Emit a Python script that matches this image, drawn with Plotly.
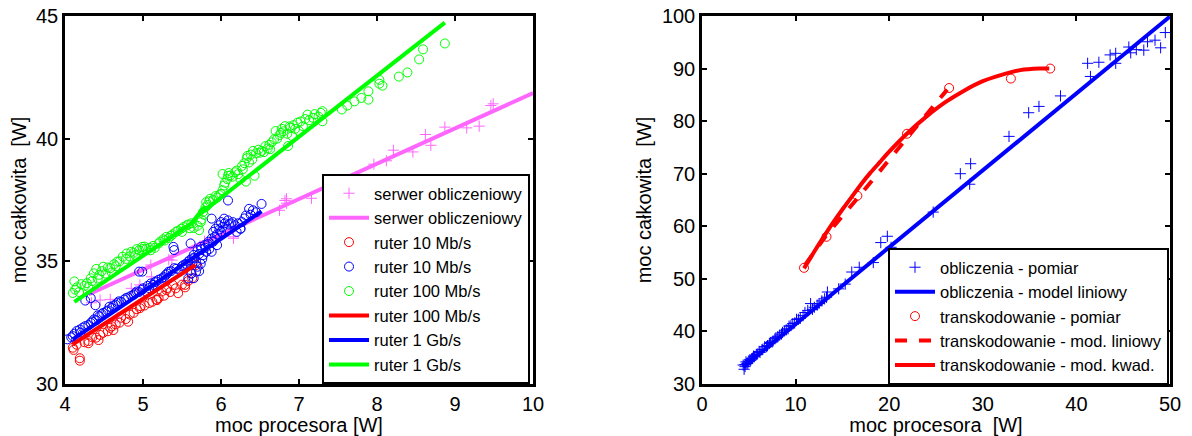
import plotly.graph_objects as go

# ---------------- LEFT PANEL DATA ----------------
serwer_x = [4.34, 4.45, 4.58, 4.67, 4.85, 4.94, 4.96, 5.11, 5.10, 5.33, 5.37, 5.79, 6.16, 6.16,
            6.75, 6.82, 6.84, 6.84, 7.16, 7.96, 8.12, 8.21, 8.46, 8.62, 8.69, 8.87, 9.15, 9.31, 9.46, 9.49]
serwer_y = [33.31, 33.42, 33.45, 32.70, 33.90, 33.83, 34.04, 34.37, 34.85, 35.07, 35.05, 35.82, 36.00, 35.94,
            37.08, 37.48, 37.55, 37.37, 37.57, 38.96, 39.10, 39.53, 39.46, 40.17, 39.73, 40.47, 40.44, 40.51, 41.35, 41.42]
serwer_model_x = [4.30, 10.0]
serwer_model_y = [33.65, 41.86]

r10_x = [4.10, 4.11, 4.19, 4.19, 4.30, 4.30, 4.40, 4.43, 4.49, 4.58, 4.62, 4.65, 4.72, 4.81, 4.83,
         4.96, 4.97, 5.08, 5.17, 5.18, 5.24, 5.30, 5.31, 5.38, 5.54, 5.54, 5.62, 5.63, 5.65, 5.68,
         4.15, 4.25, 4.35, 4.45, 4.55, 4.60, 4.70, 4.78, 4.88, 4.92, 5.02, 5.12, 5.20, 5.27, 5.35,
         5.42, 5.50, 5.58, 5.45]
r10_y = [31.48, 31.39, 31.05, 30.95, 31.75, 31.66, 31.89, 31.79, 32.09, 32.29, 32.20, 32.43, 32.70, 32.54, 32.83,
         33.09, 33.17, 33.30, 33.44, 33.42, 33.77, 33.83, 33.91, 34.04, 34.04, 33.94, 34.51, 34.31, 34.99, 34.85,
         31.60, 31.70, 31.90, 32.00, 32.15, 32.35, 32.50, 32.65, 32.90, 33.05, 33.20, 33.35, 33.50, 33.60, 33.75,
         33.90, 34.05, 34.20, 33.70]

b10_x = [4.03, 4.10, 4.15, 4.19, 4.26, 4.33, 4.37, 4.44, 4.49, 4.53, 4.60, 4.65, 4.69, 4.76, 4.81,
         4.88, 4.92, 4.99, 5.04, 5.08, 5.13, 5.17, 5.24, 5.29, 5.33, 5.40, 5.47, 5.52, 5.58, 5.63,
         5.68, 5.70, 5.68, 5.65, 5.65, 5.70, 5.74, 5.79, 5.84, 5.88, 5.90, 5.93, 5.97, 6.00, 6.04,
         6.09, 6.13, 6.18, 6.20, 6.00, 5.95, 5.88, 5.81, 6.25, 6.32, 6.36, 6.41, 6.52,
         4.26, 4.33, 4.39, 4.95, 4.99, 5.39, 5.40, 5.61, 5.88, 6.09, 6.25,
         4.08, 4.12, 4.20, 4.23, 4.30, 4.35, 4.40, 4.42, 4.47, 4.55, 4.57, 4.62, 4.67, 4.72, 4.78,
         4.85, 4.90, 4.95, 5.00, 5.06, 5.10, 5.15, 5.20, 5.27, 5.31, 5.36, 5.43, 5.50, 5.55, 5.60,
         5.66, 5.72, 5.75, 5.77, 5.80, 5.83, 5.85, 5.90, 5.92, 5.95, 5.98, 6.02, 6.05, 6.07, 6.10,
         6.15, 6.22, 6.27, 6.30, 6.38, 6.45, 5.72, 5.74, 5.76, 5.62, 5.58]
b10_y = [31.82, 31.95, 32.16, 32.22, 32.36, 32.49, 32.63, 32.76, 32.90, 32.96, 33.10, 33.23, 33.37, 33.44, 33.53,
         33.64, 33.77, 33.84, 33.77, 33.91, 34.04, 34.18, 34.31, 34.45, 34.58, 34.72, 34.65, 34.85, 34.99, 35.12,
         34.99, 34.78, 34.58, 34.31, 35.26, 35.46, 35.59, 35.66, 35.80, 35.93, 36.20, 36.33, 36.47, 36.60, 36.74,
         36.67, 36.54, 36.47, 36.20, 36.20, 35.66, 35.39, 35.39, 36.33, 36.87, 37.14, 37.08, 37.34,
         33.40, 33.50, 33.21, 34.58, 34.58, 35.59, 35.46, 35.73, 36.74, 37.48, 36.33,
         31.90, 32.05, 32.10, 32.30, 32.40, 32.55, 32.60, 32.80, 32.85, 33.00, 33.15, 33.20, 33.30, 33.35, 33.50,
         33.60, 33.70, 33.75, 33.90, 34.00, 34.10, 34.15, 34.25, 34.35, 34.50, 34.60, 34.70, 34.80, 34.90, 35.05,
         35.15, 35.30, 35.50, 35.25, 35.55, 35.70, 35.50, 35.80, 36.00, 36.10, 36.30, 36.40, 36.55, 36.30, 36.50,
         36.60, 36.55, 36.60, 36.75, 36.90, 37.00, 34.60, 34.90, 35.10, 34.50, 34.30]

g100_x = [4.10, 4.15, 4.21, 4.12, 4.28, 4.33, 4.37, 4.44, 4.40, 4.49, 4.58, 4.63, 4.74, 4.67, 4.79,
          4.85, 4.92, 4.99, 5.04, 5.13, 5.20, 5.26, 5.36, 5.42, 5.49, 5.56, 5.65, 5.72, 5.74, 5.77,
          5.81, 5.86, 5.93, 6.00, 6.04, 6.02, 6.09, 6.18, 6.25, 6.32, 6.27, 6.34, 6.41, 6.36, 6.43,
          6.50, 6.57, 6.63, 6.68, 6.70, 6.77, 6.82, 6.86, 6.91, 6.98, 7.05, 7.00, 7.11, 7.18, 7.30,
          7.30, 6.89, 7.55, 7.62, 7.71, 7.80, 7.89, 7.89, 8.03, 8.07, 8.03, 8.28, 8.39, 8.54, 8.59, 8.87,
          4.13, 4.18, 4.25, 4.30, 4.35, 4.42, 4.47, 4.52, 4.55, 4.60, 4.65, 4.70, 4.78, 4.83, 4.88,
          4.90, 4.95, 5.00, 5.02, 5.08, 5.10, 5.15, 5.22, 5.28, 5.30, 5.33, 5.38, 5.45, 5.50, 5.52,
          5.58, 5.60, 5.62, 5.70, 5.75, 5.78, 5.80, 5.83, 5.85, 5.90, 5.95, 5.98, 6.02, 6.05, 6.08,
          6.10, 6.12, 6.15, 6.20, 6.22, 6.28, 6.30, 6.33, 6.38, 6.40, 6.45, 6.48, 6.52, 6.55, 6.60,
          6.62, 6.65, 6.72, 6.75, 6.78, 6.80, 6.85, 6.88, 6.93, 6.95, 7.02, 7.08, 7.13, 7.20, 7.25, 7.28]
g100_y = [33.71, 33.94, 34.07, 34.18, 34.11, 34.31, 34.51, 34.45, 34.69, 34.78, 34.72, 34.88, 35.19, 34.99, 35.32,
          35.39, 35.50, 35.59, 35.50, 35.63, 35.73, 35.90, 36.04, 36.20, 36.33, 36.47, 36.36, 36.27, 36.60, 37.01,
          37.41, 37.55, 37.66, 37.75, 38.09, 38.56, 38.49, 38.63, 38.36, 38.25, 38.89, 39.30, 39.50, 39.03, 38.49,
          39.43, 39.70, 39.57, 39.97, 40.31, 40.24, 40.51, 39.70, 40.11, 40.65, 40.51, 40.31, 40.98, 40.85, 41.12,
          40.71, 40.44, 41.19, 41.35, 41.52, 41.66, 41.59, 41.93, 42.40, 42.16, 42.24, 42.53, 42.70, 43.23, 43.64, 43.88,
          33.85, 33.75, 34.00, 33.95, 34.20, 34.30, 34.60, 34.50, 34.75, 34.55, 34.80, 35.00, 35.10, 35.20, 35.35,
          35.25, 35.45, 35.50, 35.60, 35.55, 35.45, 35.55, 35.80, 35.85, 36.00, 35.95, 36.10, 36.25, 36.20, 36.40,
          36.50, 36.35, 36.55, 36.45, 36.70, 36.90, 37.20, 37.30, 37.45, 37.50, 37.60, 37.70, 37.90, 38.20, 38.35,
          38.60, 38.50, 38.45, 38.70, 38.55, 38.75, 39.00, 39.20, 39.35, 39.15, 39.40, 39.55, 39.50, 39.45, 39.60,
          39.75, 39.85, 40.00, 40.15, 40.40, 40.30, 40.20, 40.50, 40.55, 40.40, 40.70, 40.80, 40.75, 41.00, 40.90, 41.05]

r100_model_x = [4.10, 5.67]
r100_model_y = [31.62, 34.85]
b1g_model_x = [4.10, 6.52]
b1g_model_y = [31.82, 37.04]
g1g_model_x = [4.12, 5.62, 5.80, 5.68, 8.87]
g1g_model_y = [33.35, 36.55, 37.25, 36.80, 44.73]

left_names = ["serwer obliczeniowy", "serwer obliczeniowy", "ruter 10 Mb/s", "ruter 10 Mb/s",
              "ruter 100 Mb/s", "ruter 100 Mb/s", "ruter 1 Gb/s", "ruter 1 Gb/s"]

# ---------------- RIGHT PANEL DATA ----------------
obl_x = [4.5, 4.4, 4.6, 4.7, 4.9, 5.1, 5.3, 5.5, 5.8, 6.1, 6.4, 6.7, 7.0, 7.3, 7.6, 7.9, 8.3, 8.6,
         9.0, 9.3, 9.7, 10.1, 10.5, 11.0, 11.6, 12.0, 12.5, 13.3, 13.4, 14.6, 15.3, 16.0, 16.8, 18.3,
         19.1, 19.8, 20.2, 24.7, 27.6, 28.6, 28.7, 32.8, 34.9, 36.0, 38.3, 41.2, 41.5, 42.4, 43.6,
         44.2, 44.2, 45.6, 45.8, 46.4, 47.2, 47.6, 48.4, 49.0, 49.5,
         4.6, 4.8, 5.0, 5.2, 5.4, 5.6, 5.9, 6.2, 6.5, 6.9, 7.2, 7.5, 7.8, 8.1, 8.5, 8.8, 9.2, 9.5,
         9.9, 10.3, 10.8, 11.3, 11.8, 12.3, 12.8, 13.1]
obl_y = [32.8, 33.6, 33.3, 34.2, 34.0, 34.6, 34.8, 35.3, 35.6, 36.2, 36.5, 37.1, 37.3, 37.9, 38.2, 38.8, 39.3, 39.8,
         40.3, 41.0, 41.5, 42.3, 42.5, 43.6, 45.3, 44.6, 45.3, 46.5, 47.5, 48.1, 49.0, 51.3, 52.2, 53.1,
         56.9, 58.1, 56.0, 62.7, 70.0, 68.0, 71.9, 77.1, 81.6, 82.8, 84.8, 91.0, 88.5, 91.2, 92.6,
         92.9, 91.0, 94.1, 93.0, 93.6, 93.5, 95.1, 95.4, 93.95, 96.85,
         33.7, 33.9, 34.3, 34.5, 34.9, 35.2, 35.7, 36.0, 36.6, 37.1, 37.7, 38.0, 38.6, 39.0, 39.5, 40.1, 40.5, 41.1,
         41.6, 42.3, 43.0, 44.0, 44.2, 45.0, 45.8, 46.2]
obl_model_x = [4.4, 50.0]
obl_model_y = [33.2, 99.9]

trans_x = [10.9, 13.3, 16.6, 21.9, 26.4, 33.0, 37.2]
trans_y = [52.1, 58.0, 65.8, 77.6, 86.3, 88.1, 90.0]
trans_lin_x = [11.0, 13.3, 16.6, 21.9, 26.2]
trans_lin_y = [52.6, 58.3, 65.3, 76.8, 86.0]
trans_kw_x = [10.9, 12.0, 13.0, 14.0, 15.0, 16.0, 17.0, 18.0, 19.0, 20.0, 22.0, 24.0, 26.0, 28.0,
              30.0, 32.0, 34.0, 36.0, 37.1]
trans_kw_y = [52.0, 55.2, 58.0, 60.7, 63.2, 65.6, 68.0, 70.2, 72.2, 74.2, 77.8, 80.9, 83.6, 85.8,
              87.6, 88.8, 89.7, 90.0, 90.0]

right_names = ["obliczenia - pomiar", "obliczenia - model liniowy", "transkodowanie - pomiar",
               "transkodowanie - mod. liniowy", "transkodowanie - mod. kwad."]

PINK = "#ff66ff"
RED = "#ff0000"
BLUE = "#0000ff"
GREEN = "#00ff00"
FONT = "Liberation Sans, Arial, Helvetica, sans-serif"

fig = go.Figure()

def mk(x, y, name, color, symbol, xa, ya, legend, size=9):
    return go.Scatter(x=x, y=y, mode="markers", name=name, xaxis=xa, yaxis=ya, legend=legend,
                      marker=dict(symbol=symbol, size=size, color=color, line=dict(color=color, width=1)))

def ln(x, y, name, color, xa, ya, legend, dash="solid", width=4):
    return go.Scatter(x=x, y=y, mode="lines", name=name, xaxis=xa, yaxis=ya, legend=legend,
                      line=dict(color=color, width=width, dash=dash, shape="spline", smoothing=0.6))

fig.add_trace(mk(serwer_x, serwer_y, left_names[0], PINK, "cross-thin-open", "x", "y", "legend", 8))
fig.add_trace(ln(serwer_model_x, serwer_model_y, left_names[1], PINK, "x", "y", "legend"))
fig.add_trace(mk(r10_x, r10_y, left_names[2], RED, "circle-open", "x", "y", "legend"))
fig.add_trace(mk(b10_x, b10_y, left_names[3], BLUE, "circle-open", "x", "y", "legend"))
fig.add_trace(mk(g100_x, g100_y, left_names[4], GREEN, "circle-open", "x", "y", "legend"))
fig.add_trace(ln(r100_model_x, r100_model_y, left_names[5], RED, "x", "y", "legend"))
fig.add_trace(ln(b1g_model_x, b1g_model_y, left_names[6], BLUE, "x", "y", "legend"))
g_line = ln(g1g_model_x, g1g_model_y, left_names[7], GREEN, "x", "y", "legend")
g_line.line.shape = "linear"
fig.add_trace(g_line)

fig.add_trace(mk(obl_x, obl_y, right_names[0], BLUE, "cross-thin-open", "x2", "y2", "legend2", 8))
fig.add_trace(ln(obl_model_x, obl_model_y, right_names[1], BLUE, "x2", "y2", "legend2"))
fig.add_trace(mk(trans_x, trans_y, right_names[2], RED, "circle-open", "x2", "y2", "legend2"))
fig.add_trace(ln(trans_lin_x, trans_lin_y, right_names[3], RED, "x2", "y2", "legend2", dash="dash"))
fig.add_trace(ln(trans_kw_x, trans_kw_y, right_names[4], RED, "x2", "y2", "legend2"))

W, H = 1192, 436
ydom = [1 - 384 / H, 1 - 16 / H]

axcommon = dict(showline=True, linecolor="black", linewidth=2.5, mirror="ticks", ticks="inside",
                ticklen=5, tickwidth=1.5, tickcolor="black", showgrid=False, zeroline=False,
                tickfont=dict(size=20, color="black", family=FONT), automargin=False)

legcommon = dict(bgcolor="white", bordercolor="black", borderwidth=2,
                 font=dict(size=16.5, color="black", family=FONT), itemwidth=40,
                 xanchor="left", yanchor="top", tracegroupgap=0)

fig.update_layout(
    width=W, height=H, margin=dict(l=0, r=0, t=0, b=0),
    paper_bgcolor="white", plot_bgcolor="white",
    font=dict(family=FONT, color="black"),
    xaxis=dict(domain=[65 / W, 533 / W], range=[4, 10], tickvals=[4, 5, 6, 7, 8, 9, 10], anchor="y",
               title=dict(text="moc procesora [W]", font=dict(size=20), standoff=1), **axcommon),
    yaxis=dict(domain=ydom, range=[30, 45], tickvals=[30, 35, 40, 45], anchor="x",
               title=dict(text="moc całkowita\u00a0 [W]", font=dict(size=20), standoff=5), **axcommon),
    xaxis2=dict(domain=[702 / W, 1170 / W], range=[0, 50], tickvals=[0, 10, 20, 30, 40, 50], anchor="y2",
                title=dict(text="moc procesora\u00a0 [W]", font=dict(size=20), standoff=1), **axcommon),
    yaxis2=dict(domain=ydom, range=[30, 100], tickvals=[30, 40, 50, 60, 70, 80, 90, 100], anchor="x2",
                title=dict(text="moc całkowita\u00a0 [W]", font=dict(size=20), standoff=5), **axcommon),
    legend=dict(x=322 / W, y=1 - 174 / H, **legcommon),
    legend2=dict(x=888 / W, y=1 - 248 / H, **legcommon),
)

fig.write_html("out.html")
